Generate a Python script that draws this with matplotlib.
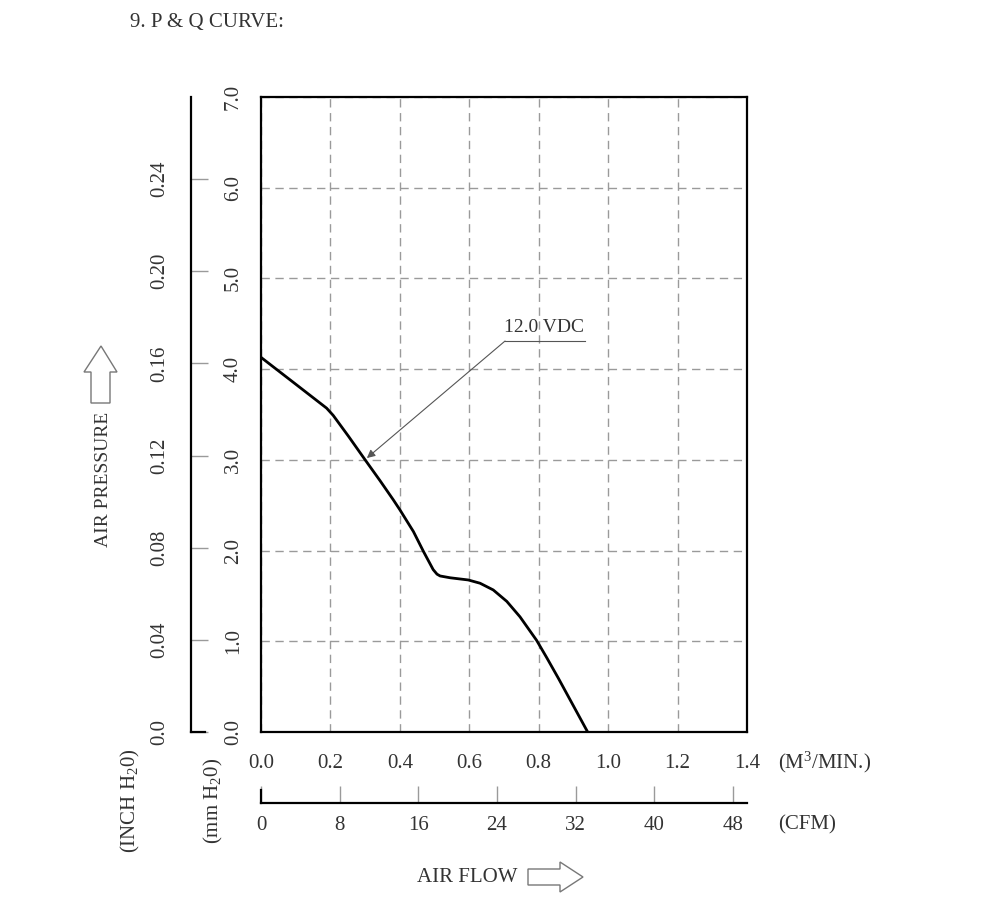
import numpy as np
import matplotlib
matplotlib.use("Agg")
import matplotlib.pyplot as plt
from matplotlib.patches import Polygon

plt.rcParams['font.family'] = ['Liberation Serif', 'DejaVu Serif']
plt.rcParams['mathtext.fontset'] = 'custom'
plt.rcParams['mathtext.rm'] = 'Liberation Serif'
plt.rcParams['mathtext.it'] = 'Liberation Serif'

# ---- data ----
flow_m3 = [0.0, 0.098, 0.189, 0.208, 0.252, 0.300, 0.343, 0.381, 0.400, 0.439,
           0.468, 0.496, 0.507, 0.516, 0.545, 0.597, 0.631, 0.669, 0.708, 0.746,
           0.794, 0.823, 0.857, 0.941]
pressure_mm = [4.13, 3.84, 3.57, 3.49, 3.26, 3.00, 2.77, 2.56, 2.45, 2.21,
               1.99, 1.79, 1.74, 1.72, 1.70, 1.676, 1.64, 1.566, 1.44, 1.27,
               1.01, 0.82, 0.59, 0.0]
x_ticks_m3 = [0.0, 0.2, 0.4, 0.6, 0.8, 1.0, 1.2, 1.4]
x_labels_m3 = ["0.0", "0.2", "0.4", "0.6", "0.8", "1.0", "1.2", "1.4"]
y_ticks_mm = [0, 1, 2, 3, 4, 5, 6, 7]
y_labels_mm = ["0.0", "1.0", "2.0", "3.0", "4.0", "5.0", "6.0", "7.0"]
cfm_ticks = [0, 8, 16, 24, 32, 40, 48]
inch_ticks = [0.0, 0.04, 0.08, 0.12, 0.16, 0.20, 0.24]
inch_labels = ["0.0", "0.04", "0.08", "0.12", "0.16", "0.20", "0.24"]
curve_label = "12.0 VDC"

W, H = 1000, 897
fig = plt.figure(figsize=(W / 100, H / 100), dpi=100)

def fx(px):
    return px / W

def fy(py):
    return 1 - py / H

FS = 15
TC = '#333333'
GRAY = '#9a9a9a'

# main axes
L, R, T, B = 261, 747, 97, 732
ax = fig.add_axes([fx(L), fy(B), (R - L) / W, (B - T) / H])
ax.set_xlim(0, 1.4)
ax.set_ylim(0, 7)
ax.plot(flow_m3, pressure_mm, color='black', lw=2.0, zorder=3,
        solid_joinstyle='round')
ax.set_xticks(x_ticks_m3)
ax.set_xticklabels(x_labels_m3)
ax.set_yticks(y_ticks_mm)
ax.set_yticklabels(y_labels_mm)
ax.tick_params(axis='both', length=0, labelsize=FS, labelcolor=TC)
ax.tick_params(axis='x', pad=16)
ax.tick_params(axis='y', pad=13, labelrotation=90)
for lab in ax.get_yticklabels():
    lab.set_va('center')
ax.grid(True, color=GRAY, lw=1.0, linestyle=(0, (6, 4)))
for s in ax.spines.values():
    s.set_linewidth(1.6)
    s.set_zorder(4)

# annotation
ax.annotate('', xy=(0.305, 3.02), xytext=(0.703, 4.31),
            arrowprops=dict(arrowstyle='-|>', color='#555555', lw=0.8,
                            mutation_scale=12, shrinkA=0, shrinkB=0))
ax.plot([0.703, 0.933], [4.31, 4.31], color='#555555', lw=0.8)
ax.text(0.815, 4.36, curve_label, ha='center', va='bottom', fontsize=14, color=TC)

# inch axis
ax_in = fig.add_axes([fx(191), fy(B), 14 / W, (B - T) / H])
ax_in.set_ylim(0, 7 / 25.4)
ax_in.set_xlim(0, 1)
ax_in.set_xticks([])
ax_in.set_yticks(inch_ticks)
ax_in.set_yticklabels(inch_labels)
ax_in.tick_params(axis='y', direction='in', length=12, color=GRAY, width=1,
                  labelsize=FS, labelcolor=TC, pad=16, labelrotation=90)
for lab in ax_in.get_yticklabels():
    lab.set_va('center')
ax_in.patch.set_visible(False)
ax_in.spines['top'].set_visible(False)
ax_in.spines['right'].set_visible(False)
ax_in.spines['left'].set_linewidth(1.6)
ax_in.spines['bottom'].set_linewidth(1.6)

# CFM axis
ax_c = fig.add_axes([fx(L), fy(803), (R - L) / W, 13 / H])
ax_c.set_xlim(0, 1.4 * 35.3147)
ax_c.set_ylim(0, 1)
ax_c.set_yticks([])
ax_c.set_xticks(cfm_ticks)
ax_c.tick_params(axis='x', direction='in', length=12, color=GRAY, width=1,
                 labelsize=FS, labelcolor=TC, pad=9)
ax_c.patch.set_visible(False)
ax_c.spines['top'].set_visible(False)
ax_c.spines['right'].set_visible(False)
ax_c.spines['left'].set_linewidth(1.6)
ax_c.spines['bottom'].set_linewidth(1.6)

# texts
fig.text(fx(130), fy(22), "9. P & Q CURVE:", fontsize=FS, color=TC, va='center', ha='left')
fig.text(fx(778), fy(762), r"(M$^3$/MIN.)", fontsize=FS, color=TC, va='center', ha='left')
fig.text(fx(778), fy(825), "(CFM)", fontsize=FS, color=TC, va='center', ha='left')
fig.text(fx(130), fy(801), r"(INCH H$_2$0)", fontsize=FS, color=TC, va='center', ha='center', rotation=90)
fig.text(fx(213), fy(801), r"(mm H$_2$0)", fontsize=FS, color=TC, va='center', ha='center', rotation=90)
fig.text(fx(103), fy(479), "AIR PRESSURE", fontsize=14, color=TC, va='center', ha='center', rotation=90)
fig.text(fx(467), fy(877), "AIR FLOW", fontsize=FS, color=TC, va='center', ha='center')

# outline arrows
up = [(101, 346), (117, 372), (110, 372), (110, 403), (91, 403), (91, 372), (84, 372)]
fig.patches.append(Polygon([(fx(a), fy(b)) for a, b in up], closed=True, fill=False,
                           edgecolor='#777777', lw=1.0, transform=fig.transFigure, figure=fig))
right = [(583, 877), (560, 862), (560, 869), (528, 869), (528, 885), (560, 885), (560, 892)]
fig.patches.append(Polygon([(fx(a), fy(b)) for a, b in right], closed=True, fill=False,
                           edgecolor='#777777', lw=1.0, transform=fig.transFigure, figure=fig))

fig.savefig("out.png", dpi=100)
